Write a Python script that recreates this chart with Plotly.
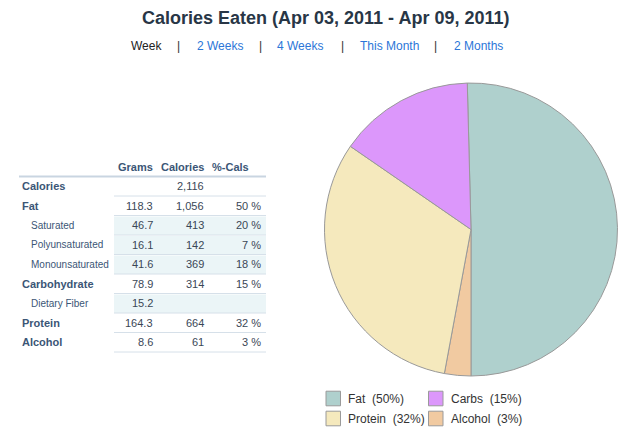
import plotly.graph_objects as go

# page body has an 8px margin: draw in reference pixel coords shifted by it
OFF = 8
W, H = 633 - OFF, 437 - OFF

# ---------------- data ----------------
title_text = "Calories Eaten (Apr 03, 2011 - Apr 09, 2011)"
nav_items = ["Week", "2 Weeks", "4 Weeks", "This Month", "2 Months"]

col_headers = ["Grams", "Calories", "%-Cals"]
row_labels = ["Calories", "Fat", "Saturated", "Polyunsaturated", "Monounsaturated",
              "Carbohydrate", "Dietary Fiber", "Protein", "Alcohol"]
row_is_sub = [False, False, True, True, True, False, True, False, False]
grams = [None, 118.3, 46.7, 16.1, 41.6, 78.9, 15.2, 164.3, 8.6]
calories = [2116, 1056, 413, 142, 369, 314, None, 664, 61]
pct_cals = [None, 50, 20, 7, 18, 15, None, 32, 3]

slice_labels = ["Fat", "Alcohol", "Protein", "Carbs"]
slice_calories = [1056, 61, 664, 314]
slice_colors = ["#afd0cd", "#f1caa1", "#f5e9bd", "#dc97fb"]

legend_labels = ["Fat", "Carbs", "Protein", "Alcohol"]
legend_pcts = [50, 15, 32, 3]
legend_colors = ["#afd0cd", "#dc97fb", "#f5e9bd", "#f1caa1"]

# ---------------- helpers ----------------
FONT = "Liberation Sans, Arial, Helvetica, sans-serif"


def fx(px):
    return (px - OFF) / W


def fy(py):
    return 1 - (py - OFF) / H


annotations = []
shapes = []


def text(x, y, s, size=11, color="#333", anchor="left", bold=False):
    if bold:
        s = "<b>" + s + "</b>"
    annotations.append(dict(x=fx(x), y=fy(y), xref="paper", yref="paper", text=s,
                            showarrow=False, xanchor=anchor, yanchor="middle",
                            font=dict(family=FONT, size=size, color=color)))


# title
text(326, 18, title_text, size=18, color="#283646", anchor="center", bold=True)

# nav
nav_centers = [146.5, 220, 300, 389, 478]
sep_x = [178, 260, 342, 435]
for i, (item, cx) in enumerate(zip(nav_items, nav_centers)):
    text(cx, 46, item, size=12, color="#222222" if i == 0 else "#2b76d8", anchor="center")
for sx in sep_x:
    text(sx, 46, "|", size=12, color="#333333", anchor="center")

# ---------------- table ----------------
TL, TR, DL = 19, 266, 114
header_y = 166.5
line0 = 176.5
rh = 19.5
col_right = [154, 205, 262]
head_right = [154, 205, 250]
LABEL_C = "#3b5676"
NUM_C = "#3a4756"

for h, xr in zip(col_headers, head_right):
    text(xr + 1, header_y, h, size=11, color=LABEL_C, anchor="right", bold=True)

shapes.append(dict(type="line", xref="paper", yref="paper", x0=fx(TL), x1=fx(TR),
                   y0=fy(line0), y1=fy(line0), line=dict(color="#c9d5e1", width=2)))

for i, lab in enumerate(row_labels):
    top = line0 + i * rh
    bot = top + rh
    cy = top + rh / 2
    if row_is_sub[i]:
        shapes.append(dict(type="rect", xref="paper", yref="paper", x0=fx(DL), x1=fx(TR),
                           y0=fy(bot), y1=fy(top + 1), fillcolor="#ebf5f7",
                           line=dict(width=0), layer="below"))
        text(29, cy, lab, size=10, color=LABEL_C)
    else:
        text(20, cy, lab, size=11, color=LABEL_C, bold=True)
    shapes.append(dict(type="line", xref="paper", yref="paper", x0=fx(DL), x1=fx(TR),
                       y0=fy(bot), y1=fy(bot), line=dict(color="#d6e0e9", width=1)))
    vals = [
        "" if grams[i] is None else f"{grams[i]:.1f}",
        "" if calories[i] is None else f"{calories[i]:,}",
        "" if pct_cals[i] is None else f"{pct_cals[i]} %",
    ]
    for v, xr in zip(vals, col_right):
        if v:
            text(xr + 1, cy, v, size=11, color=NUM_C, anchor="right")

# ---------------- legend ----------------
leg_pos = [(326, 398.5), (428.5, 398.5), (326, 418.5), (428.5, 418.5)]
for (lx, ly), lab, p, c in zip(leg_pos, legend_labels, legend_pcts, legend_colors):
    shapes.append(dict(type="rect", xref="paper", yref="paper", x0=fx(lx), x1=fx(lx + 14.5),
                       y0=fy(ly + 7.3), y1=fy(ly - 7.3), fillcolor=c,
                       line=dict(color="#9a9a9a", width=1)))
    text(lx + 20, ly, f"{lab}\u00a0\u00a0({p}%)", size=12, color="#333333")

# ---------------- pie ----------------
pcx, pcy, r = 471, 229.5, 146.5
fat_frac = slice_calories[0] / sum(slice_calories)
fig = go.Figure(go.Pie(
    labels=slice_labels, values=slice_calories, sort=False, direction="clockwise",
    rotation=-(fat_frac - 0.5) * 360,
    marker=dict(colors=slice_colors, line=dict(color="#999999", width=1)),
    textinfo="none", hoverinfo="label+percent", showlegend=False,
    domain=dict(x=[fx(pcx - r), fx(pcx + r)], y=[fy(pcy + r), fy(pcy - r)]),
))

fig.update_layout(
    width=W, height=H, margin=dict(l=0, r=0, t=0, b=0),
    paper_bgcolor="white", plot_bgcolor="white",
    annotations=annotations, shapes=shapes, showlegend=False,
    font=dict(family=FONT),
)

fig.write_html("out.html")
